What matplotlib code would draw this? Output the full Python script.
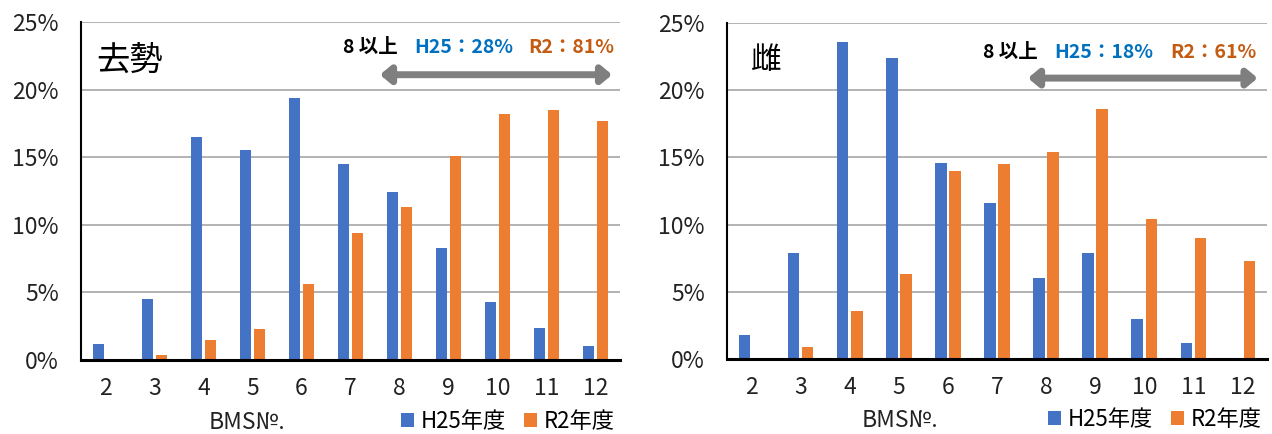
import numpy as np
import matplotlib.pyplot as plt

plt.rcParams['font.family'] = ['Noto Sans CJK JP', 'DejaVu Sans']

bms = ['2', '3', '4', '5', '6', '7', '8', '9', '10', '11', '12']

# 去勢
steer_h25 = [1.2, 4.5, 16.5, 15.5, 19.4, 14.5, 12.4, 8.3, 4.3, 2.4, 1.0]
steer_r2 = [0.0, 0.4, 1.5, 2.3, 5.6, 9.4, 11.3, 15.1, 18.2, 18.5, 17.7]

# 雌
cow_h25 = [1.8, 7.9, 23.6, 22.4, 14.6, 11.6, 6.0, 7.9, 3.0, 1.2, 0.0]
cow_r2 = [0.0, 0.9, 3.6, 6.3, 14.0, 14.5, 15.4, 18.6, 10.4, 9.0, 7.3]

yticks = [0, 5, 10, 15, 20, 25]

BLUE = '#4472C4'
ORANGE = '#ED7D31'
TXT_BLUE = '#0070C0'
TXT_ORANGE = '#C55A11'

fig = plt.figure(figsize=(12.72, 4.34), dpi=100)
ax1 = fig.add_axes([81 / 1272, 74 / 434, 539 / 1272, 338 / 434])
ax2 = fig.add_axes([727 / 1272, 75 / 434, 540 / 1272, 336 / 434])


def draw(ax, h25, r2, title, t_x, t_size, summary, sum_x, arrow_x, text_y, arrow_y, xlab_x):
    x = np.arange(len(bms))
    w = 0.235
    ax.bar(x - 0.143, h25, w, color=BLUE, label='H25年度', zorder=3)
    ax.bar(x + 0.143, r2, w, color=ORANGE, label='R2年度', zorder=3)
    ax.set_xlim(-0.5, len(bms) - 0.5)
    ax.set_ylim(0, 25)
    ax.set_yticks(yticks)
    ax.set_yticklabels([f'{v}%' for v in yticks])
    ax.set_xticks(x)
    ax.set_xticklabels(bms)
    ax.tick_params(axis='y', length=0, pad=16, labelsize=16.5, colors='#222222')
    ax.tick_params(axis='x', length=0, pad=12, labelsize=16.5, colors='#222222')
    ax.grid(axis='y', color='#a6a6a6', lw=1.2, zorder=0)
    for s in ['top', 'right']:
        ax.spines[s].set_visible(False)
    ax.spines['left'].set_linewidth(1.5)
    ax.spines['bottom'].set_linewidth(2.2)
    ax.spines['bottom'].set_zorder(4)

    ax.text(t_x, 22.2, title, fontsize=t_size, va='center', ha='left')

    # summary over BMS 8 and above
    ax.text(sum_x[0], text_y, summary[0], fontsize=14, fontweight='bold',
            color='black', va='center', ha='left')
    ax.text(sum_x[1], text_y, summary[1], fontsize=14, fontweight='bold',
            color=TXT_BLUE, va='center', ha='left')
    ax.text(sum_x[2], text_y, summary[2], fontsize=14, fontweight='bold',
            color=TXT_ORANGE, va='center', ha='left')
    ax.annotate('', xy=(arrow_x[1], arrow_y), xytext=(arrow_x[0], arrow_y),
                arrowprops=dict(arrowstyle='<|-|>,head_length=0.6,head_width=0.5',
                                color='#7f7f7f', lw=5, shrinkA=0, shrinkB=0))

    ax.set_xlabel('BMS№.', fontsize=16.5, color='#222222')
    ax.xaxis.set_label_coords(xlab_x, -0.15)
    ax.legend(loc='lower right', bbox_to_anchor=(0.99, -0.215), ncol=2, frameon=False,
              fontsize=16, handlelength=0.6, handleheight=0.6, handletextpad=0.3,
              columnspacing=0.8, borderaxespad=0, borderpad=0)


draw(ax1, steer_h25, steer_r2, '去勢', -0.18, 24,
     ['8 以上', 'H25：28%', 'R2：81%'], [4.85, 6.3, 8.62],
     [5.6, 10.34], 23.1, 21.1, 0.308)
draw(ax2, cow_h25, cow_r2, '雌', -0.01, 22,
     ['8 以上', 'H25：18%', 'R2：61%'], [4.71, 6.16, 8.52],
     [5.63, 10.31], 22.8, 20.9, 0.32)

fig.savefig('out.png', dpi=100)
